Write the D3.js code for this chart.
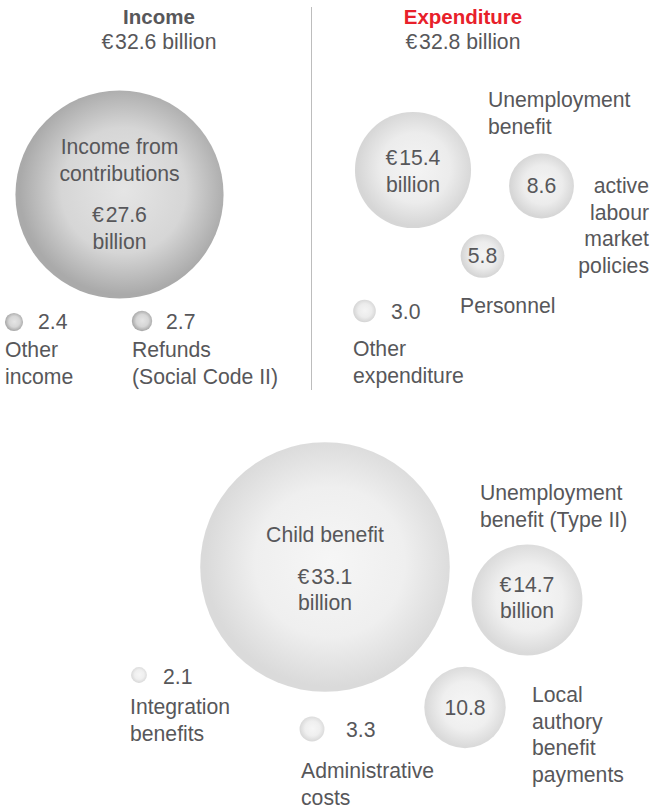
<!DOCTYPE html>
<html>
<head>
<meta charset="utf-8">
<script src="https://cdn.jsdelivr.net/npm/d3@7"></script>
<style>
  body { margin: 0; background: #fff; }
  text { font-family: "Liberation Sans", Arial, sans-serif; fill: #57575a; font-size: 21.2px; }
</style>
</head>
<body>
<div id="chart"></div>
<script>
// values in billion euro
const incomeNames = ['Income from contributions', 'Other income', 'Refunds (Social Code II)'];
const incomeValues = [27.6, 2.4, 2.7];
const incomeTotal = 32.6;

const expenditureNames = ['Unemployment benefit', 'active labour market policies', 'Personnel', 'Other expenditure'];
const expenditureValues = [15.4, 8.6, 5.8, 3.0];
const expenditureTotal = 32.8;

const familyNames = ['Child benefit', 'Unemployment benefit (Type II)', 'Local authory benefit payments', 'Administrative costs', 'Integration benefits'];
const familyValues = [33.1, 14.7, 10.8, 3.3, 2.1];

const width = 657, height = 808;
const rScale = d3.scaleLinear().domain([0, 33.1]).range([0, 124.8]);

// hand placement of each bubble and its texts
// inner: lines drawn inside the bubble (baseline offsets from centre)
// val: value text beside small bubbles; lab: label lines
const layout = {
  'Income from contributions': {cx: 119.5, cy: 194.5, fill: 'inc',
    inner: [['Income from', -41], ['contributions', -14], ['€\u200a{v}', 27], ['billion', 54]]},
  'Other income': {cx: 14, cy: 322, fill: 'inc', val: [38, 329],
    lab: {x: 5, y: 357, anchor: 'start', lines: ['Other', 'income']}},
  'Refunds (Social Code II)': {cx: 142, cy: 321, fill: 'inc', val: [166, 329],
    lab: {x: 132, y: 357, anchor: 'start', lines: ['Refunds', '(Social Code II)']}},
  'Unemployment benefit': {cx: 413, cy: 170, fill: 'exp',
    inner: [['€\u200a{v}', -5], ['billion', 22]],
    lab: {x: 488, y: 107, anchor: 'start', lines: ['Unemployment', 'benefit']}},
  'active labour market policies': {cx: 541.5, cy: 186, fill: 'exp',
    inner: [['{v}', 7]],
    lab: {x: 649, y: 193, anchor: 'end', lines: ['active', 'labour', 'market', 'policies']}},
  'Personnel': {cx: 482.5, cy: 256, fill: 'exp',
    inner: [['{v}', 7]],
    lab: {x: 460, y: 313, anchor: 'start', lines: ['Personnel']}},
  'Other expenditure': {cx: 364.5, cy: 311, fill: 'exp', val: [391, 319],
    lab: {x: 353, y: 356, anchor: 'start', lines: ['Other', 'expenditure']}},
  'Child benefit': {cx: 325, cy: 567, fill: 'fam',
    inner: [['Child benefit', -25], ['€\u200a{v}', 17], ['billion', 43]]},
  'Unemployment benefit (Type II)': {cx: 527, cy: 600, fill: 'fam',
    inner: [['€\u200a{v}', -8], ['billion', 18]],
    lab: {x: 480, y: 500, anchor: 'start', lines: ['Unemployment', 'benefit (Type II)']}},
  'Local authory benefit payments': {cx: 465, cy: 707.5, fill: 'fam',
    inner: [['{v}', 7]],
    lab: {x: 532, y: 702, anchor: 'start', lines: ['Local', 'authory', 'benefit', 'payments']}},
  'Administrative costs': {cx: 312, cy: 729, fill: 'fam', val: [346, 737],
    lab: {x: 301, y: 778, anchor: 'start', lines: ['Administrative', 'costs']}},
  'Integration benefits': {cx: 139, cy: 675, fill: 'fam', val: [163, 684],
    lab: {x: 130, y: 714, anchor: 'start', lines: ['Integration', 'benefits']}}
};

const fmt = d3.format('.1f');

const svg = d3.select('#chart')
  .append('svg')
    .attr('width', width)
    .attr('height', height);

const defs = svg.append('defs');
const grads = {
  inc: ['#e5e5e5', '#d6d6d6', '#aaaaaa'],
  exp: ['#f4f4f4', '#ececec', '#d6d6d6'],
  fam: ['#f6f6f6', '#efefef', '#dadada']
};
Object.keys(grads).forEach(k => {
  const g = defs.append('radialGradient').attr('id', 'g_' + k)
    .attr('cx', '52%').attr('cy', '48%').attr('r', '50%');
  g.append('stop').attr('offset', '0%').attr('stop-color', grads[k][0]);
  g.append('stop').attr('offset', '60%').attr('stop-color', grads[k][1]);
  g.append('stop').attr('offset', '100%').attr('stop-color', grads[k][2]);
});

// divider between income and expenditure
svg.append('line')
  .attr('x1', 311.5).attr('x2', 311.5)
  .attr('y1', 7).attr('y2', 390)
  .attr('stroke', '#bdbdbd').attr('stroke-width', 1);

// headers
svg.append('text').attr('x', 159).attr('y', 24).attr('text-anchor', 'middle')
  .style('font-weight', 'bold').style('font-size', '20.5px').text('Income');
svg.append('text').attr('x', 159).attr('y', 49).attr('text-anchor', 'middle')
  .text('€\u200a' + fmt(incomeTotal) + ' billion');
svg.append('text').attr('x', 463).attr('y', 24).attr('text-anchor', 'middle')
  .style('font-weight', 'bold').style('font-size', '20.5px').style('fill', '#e8202a').text('Expenditure');
svg.append('text').attr('x', 463).attr('y', 49).attr('text-anchor', 'middle')
  .text('€\u200a' + fmt(expenditureTotal) + ' billion');

const data = [];
incomeNames.forEach((n, i) => data.push({name: n, value: incomeValues[i]}));
expenditureNames.forEach((n, i) => data.push({name: n, value: expenditureValues[i]}));
familyNames.forEach((n, i) => data.push({name: n, value: familyValues[i]}));

const groups = svg.selectAll('g.bubble')
  .data(data)
  .join('g')
    .attr('class', 'bubble');

groups.append('circle')
  .attr('cx', d => layout[d.name].cx)
  .attr('cy', d => layout[d.name].cy)
  .attr('r', d => rScale(d.value))
  .attr('fill', d => 'url(#g_' + layout[d.name].fill + ')');

groups.each(function (d) {
  const L = layout[d.name];
  const g = d3.select(this);
  if (L.inner) {
    L.inner.forEach(([t, dy]) => {
      g.append('text')
        .attr('x', L.cx).attr('y', L.cy + dy)
        .attr('text-anchor', 'middle')
        .text(t.replace('{v}', fmt(d.value)));
    });
  }
  if (L.val) {
    g.append('text').attr('x', L.val[0]).attr('y', L.val[1]).text(fmt(d.value));
  }
  if (L.lab) {
    L.lab.lines.forEach((t, i) => {
      g.append('text')
        .attr('x', L.lab.x).attr('y', L.lab.y + i * 26.7)
        .attr('text-anchor', L.lab.anchor)
        .text(t);
    });
  }
});
</script>
</body>
</html>
